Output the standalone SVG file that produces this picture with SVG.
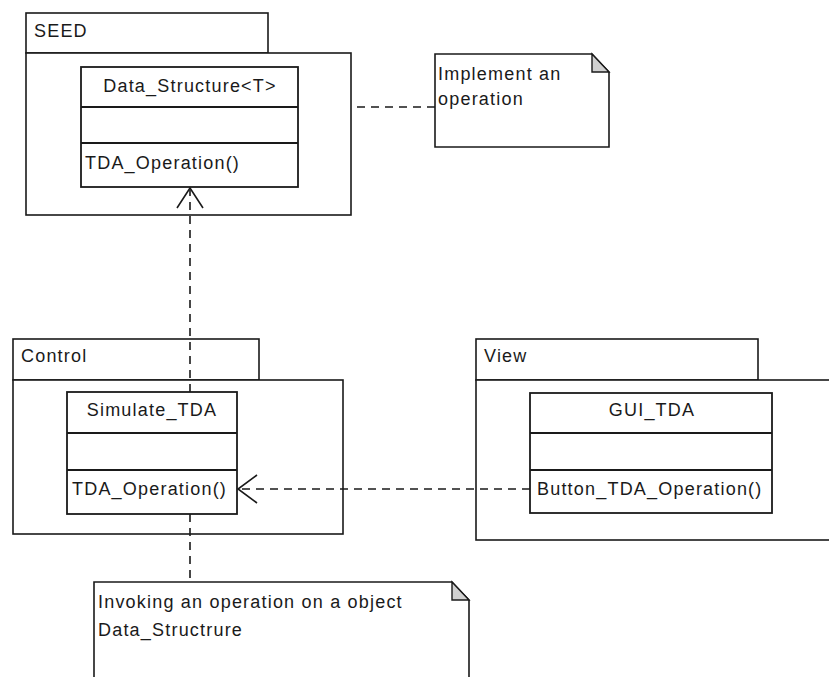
<svg xmlns="http://www.w3.org/2000/svg" width="829" height="677" viewBox="0 0 829 677">
<style>
.pk{fill:#fff;stroke:#1a1a1a;stroke-width:1.6}
.cl{fill:#fff;stroke:#1a1a1a;stroke-width:1.8}
.nt{fill:#fff;stroke:#1a1a1a;stroke-width:1.6}
.fold{fill:#d0d0d0;stroke:#1a1a1a;stroke-width:1.4}
.t{font-family:"Liberation Sans",Arial,sans-serif;font-size:18px;letter-spacing:1.2px;fill:#1a1a1a}
.dash{fill:none;stroke:#1a1a1a;stroke-width:1.6;stroke-dasharray:8,6}
.arr{fill:none;stroke:#1a1a1a;stroke-width:1.6}
</style>
<rect width="829" height="677" fill="#fff"/>
<g id="pkg-seed">
<rect class="pk" x="26" y="13" width="242" height="40"/>
<rect class="pk" x="26" y="53" width="325" height="162"/>
<text class="t" x="34" y="37">SEED</text>
</g>
<g id="pkg-control">
<rect class="pk" x="13" y="339" width="246" height="41"/>
<rect class="pk" x="13" y="380" width="330" height="154"/>
<text class="t" x="21" y="362">Control</text>
</g>
<g id="pkg-view">
<rect class="pk" x="476" y="339" width="282" height="41"/>
<rect class="pk" x="476" y="380" width="360" height="160"/>
<text class="t" x="484" y="362">View</text>
</g>
<g id="cls-data-structure">
<rect class="cl" x="81" y="67" width="217" height="120"/>
<line class="cl" x1="81" y1="107" x2="298" y2="107"/>
<line class="cl" x1="81" y1="143" x2="298" y2="143"/>
<text class="t" x="190" y="92" text-anchor="middle">Data_Structure&lt;T&gt;</text>
<text class="t" x="85" y="169">TDA_Operation()</text>
</g>
<g id="cls-simulate-tda">
<rect class="cl" x="67" y="392" width="170" height="122"/>
<line class="cl" x1="67" y1="433" x2="237" y2="433"/>
<line class="cl" x1="67" y1="470" x2="237" y2="470"/>
<text class="t" x="152" y="416" text-anchor="middle">Simulate_TDA</text>
<text class="t" x="72" y="495">TDA_Operation()</text>
</g>
<g id="cls-gui-tda">
<rect class="cl" x="530" y="393" width="242" height="120"/>
<line class="cl" x1="530" y1="433" x2="772" y2="433"/>
<line class="cl" x1="530" y1="470" x2="772" y2="470"/>
<text class="t" x="652" y="416" text-anchor="middle">GUI_TDA</text>
<text class="t" x="537" y="495">Button_TDA_Operation()</text>
</g>
<g id="note-implement">
<path class="nt" d="M435,54 H592 L609,72 V147 H435 Z"/>
<path class="fold" d="M592,54 V72 H609 Z"/>
<text class="t" x="438" y="80">Implement an</text>
<text class="t" x="438" y="105">operation</text>
</g>
<g id="note-invoking">
<path class="nt" d="M94,582 H452 L469,600 V690 H94 Z"/>
<path class="fold" d="M452,582 V600 H469 Z"/>
<text class="t" x="98" y="608">Invoking an operation on a object</text>
<text class="t" x="98" y="636">Data_Structrure</text>
</g>
<g id="connectors">
<line class="dash" x1="357" y1="107" x2="435" y2="107"/>
<line class="dash" x1="190" y1="392" x2="190" y2="190"/>
<polyline class="arr" points="177,208 190,188 203,208"/>
<line class="dash" x1="530" y1="489" x2="239" y2="489"/>
<polyline class="arr" points="257,475 238,489 257,503"/>
<line class="dash" x1="190" y1="514" x2="190" y2="582"/>
</g>
</svg>
